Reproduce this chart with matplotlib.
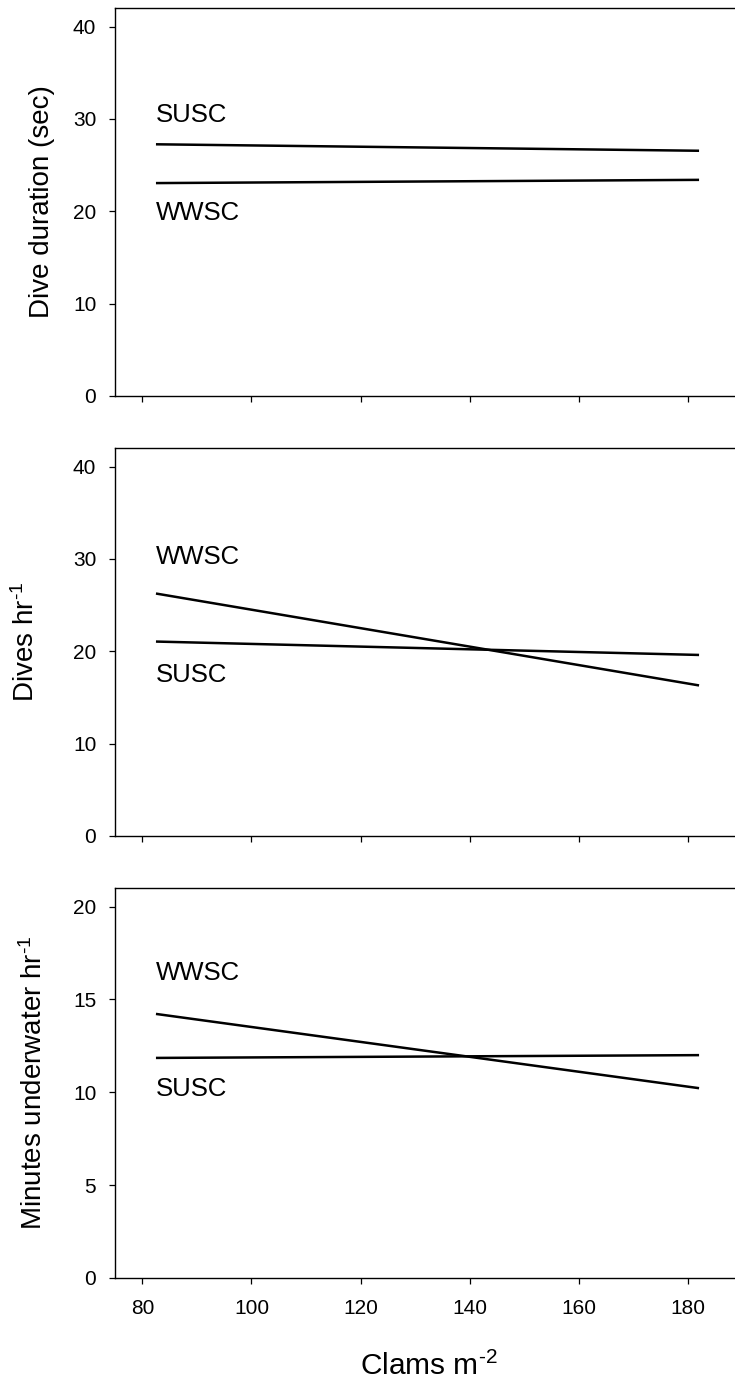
import matplotlib
matplotlib.use("Agg")
import matplotlib.pyplot as plt

plt.rcParams["font.family"] = ["Liberation Sans", "DejaVu Sans"]
plt.rcParams["mathtext.default"] = "regular"

# Clam density range covered by the fitted lines
density = [82.5, 182.0]

# Fitted regression lines (values at both ends of the density range)
dive_duration_susc = [27.25, 26.55]
dive_duration_wwsc = [23.05, 23.4]
dives_per_hr_wwsc = [26.25, 16.3]
dives_per_hr_susc = [21.05, 19.6]
min_underwater_wwsc = [14.22, 10.22]
min_underwater_susc = [11.85, 12.0]

x_ticks = [80, 100, 120, 140, 160, 180]

panels = [
    {
        "ylabel": "Dive duration (sec)",
        "ylim": (0, 42),
        "yticks": [0, 10, 20, 30, 40],
        "series": [dive_duration_susc, dive_duration_wwsc],
        "labels": [("SUSC", 30.4), ("WWSC", 19.8)],
        "label_x": -0.095,
    },
    {
        "ylabel": "Dives hr$^{\u20101}$",
        "ylim": (0, 42),
        "yticks": [0, 10, 20, 30, 40],
        "series": [dives_per_hr_wwsc, dives_per_hr_susc],
        "labels": [("WWSC", 30.2), ("SUSC", 17.4)],
        "label_x": -0.119,
    },
    {
        "ylabel": "Minutes underwater hr$^{\u20101}$",
        "ylim": (0, 21),
        "yticks": [0, 5, 10, 15, 20],
        "series": [min_underwater_wwsc, min_underwater_susc],
        "labels": [("WWSC", 16.4), ("SUSC", 10.15)],
        "label_x": -0.107,
    },
]

fig = plt.figure(figsize=(7.35, 13.88), dpi=100)

axes_bottoms = [0.7147, 0.3977, 0.0793]
axes_heights = [0.2795, 0.2795, 0.2809]
left, width = 0.1565, 0.854

for i, (p, b, h) in enumerate(zip(panels, axes_bottoms, axes_heights)):
    ax = fig.add_axes([left, b, width, h])
    for s in p["series"]:
        ax.plot(density, s, color="black", lw=1.8, solid_capstyle="butt")
    for text, y in p["labels"]:
        ax.text(density[0], y, text, fontsize=18.5, ha="left", va="center")
    ax.set_xlim(75, 190)
    ax.set_ylim(*p["ylim"])
    ax.set_yticks(p["yticks"])
    ax.set_xticks(x_ticks)
    ax.tick_params(direction="out", length=4.5, width=0.9, labelsize=15)
    ax.tick_params(axis="y", pad=9)
    for sp in ax.spines.values():
        sp.set_linewidth(1.0)
    ax.set_ylabel(p["ylabel"], fontsize=20)
    ax.yaxis.set_label_coords(p["label_x"], 0.5)
    if i < 2:
        ax.tick_params(axis="x", labelbottom=False)
    else:
        ax.tick_params(axis="x", pad=11)
        ax.set_xlabel("Clams m$^{\u20102}$", fontsize=21.5, labelpad=24)

fig.savefig("out.png", dpi=100)
